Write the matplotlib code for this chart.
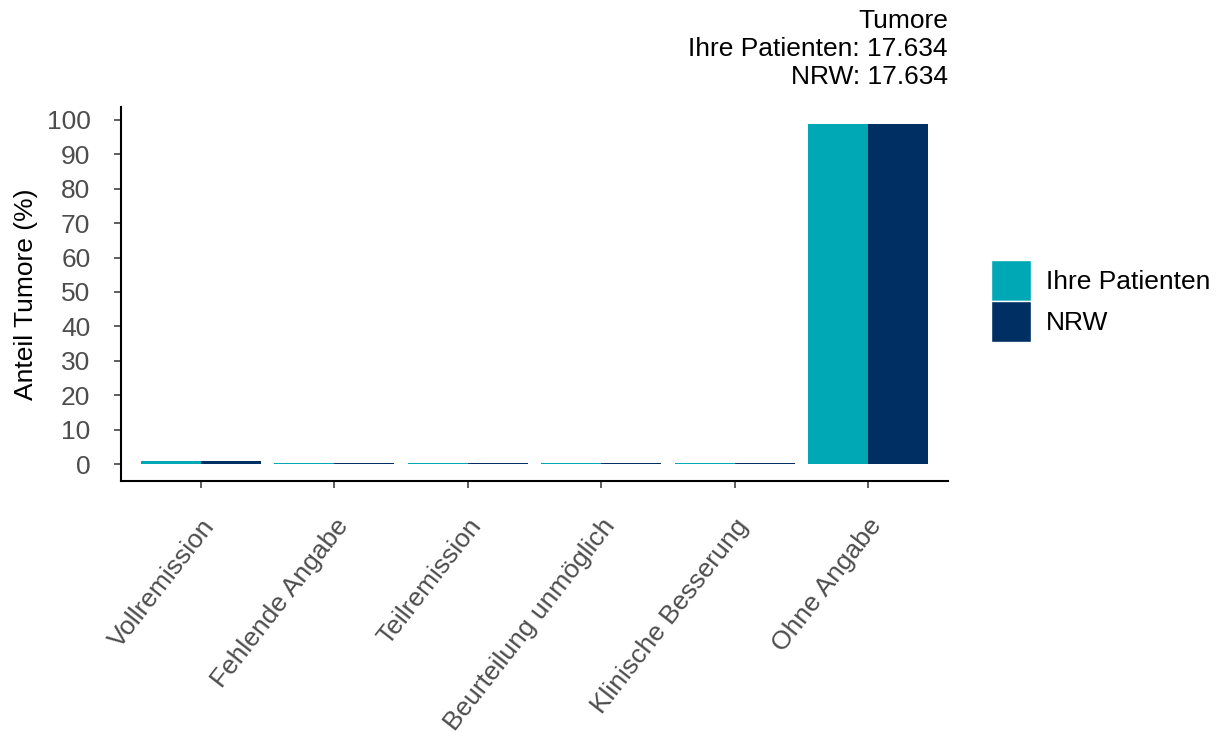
import matplotlib
matplotlib.use("Agg")
import matplotlib.pyplot as plt
import numpy as np
from matplotlib.patches import Patch

plt.rcParams['font.family'] = ['Liberation Sans', 'DejaVu Sans']

categories = ["Vollremission", "Fehlende Angabe", "Teilremission",
              "Beurteilung unmöglich", "Klinische Besserung", "Ohne Angabe"]
ihre_patienten = [0.9, 0.3, 0.3, 0.3, 0.3, 98.8]
nrw = [0.9, 0.3, 0.3, 0.3, 0.3, 98.8]
series_names = ["Ihre Patienten", "NRW"]
colors = ["#00A8B5", "#003063"]
yticks = [0, 10, 20, 30, 40, 50, 60, 70, 80, 90, 100]
title_lines = ["Tumore", "Ihre Patienten: 17.634", "NRW: 17.634"]

FS = 19
W, H = 1220, 742
fig = plt.figure(figsize=(W / 100, H / 100), dpi=100)
ax = fig.add_axes([121 / W, 1 - 481 / H, (948 - 121) / W, (481 - 107) / H])

x = np.arange(len(categories))
bw = 0.45
ax.bar(x - bw / 2, ihre_patienten, width=bw, color=colors[0], linewidth=0)
ax.bar(x + bw / 2, nrw, width=bw, color=colors[1], linewidth=0)

ymax = max(max(ihre_patienten), max(nrw))
ax.set_ylim(-0.05 * ymax, 1.05 * ymax)
ax.set_xlim(-0.6, len(categories) - 0.4)

ax.set_yticks(yticks)
ax.set_yticklabels([str(t) for t in yticks], fontsize=FS, color="#4d4d4d")
ax.set_xticks(x)
ax.set_xticklabels(categories, rotation=52, ha="right", va="top",
                   rotation_mode="anchor", fontsize=FS, color="#4d4d4d")
ax.tick_params(axis="both", length=5, width=1.1, color="#333333")
ax.tick_params(axis="y", pad=17)
ax.tick_params(axis="x", pad=19)
ax.set_ylabel("Anteil Tumore (%)", fontsize=FS, color="black", labelpad=6)

for s in ["top", "right"]:
    ax.spines[s].set_visible(False)
for s in ["left", "bottom"]:
    ax.spines[s].set_linewidth(1.5)
    ax.spines[s].set_color("black")

fig.text(948 / W, 1 - 9 / H, "\n".join(title_lines), ha="right", va="top",
         fontsize=FS, linespacing=1.2)

handles = [Patch(facecolor=c, edgecolor="white", linewidth=1) for c in colors]
fig.legend(handles, series_names, loc="center left",
           bbox_to_anchor=(991 / W, 1 - 301 / H), frameon=False, fontsize=FS,
           handlelength=1.515, handleheight=2.01, handletextpad=0.57,
           labelspacing=0.0, borderaxespad=0, borderpad=0)

fig.savefig("out.png", dpi=100)
